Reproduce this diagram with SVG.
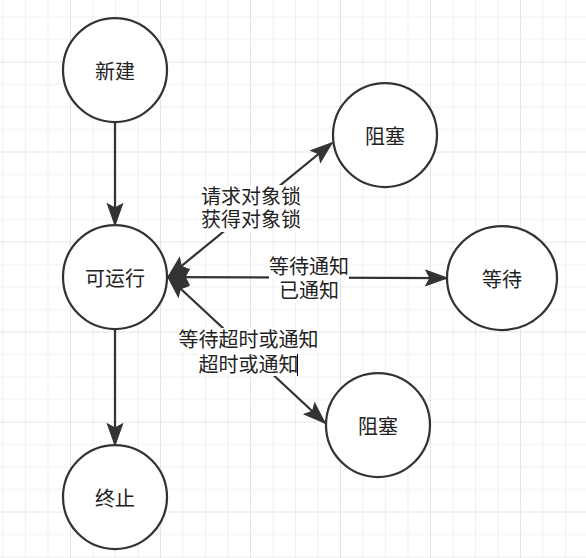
<svg xmlns="http://www.w3.org/2000/svg" width="586" height="558" viewBox="0 0 586 558">
  <style>
    .node circle, .node ellipse { fill: #ffffff; stroke: #333333; stroke-width: 2.25; }
    .node text, .label text { font-family: "Liberation Sans", "Noto Sans CJK SC", sans-serif; font-size: 20px; fill: #222222; text-anchor: middle; dominant-baseline: central; }
    .edge { stroke: #333333; stroke-width: 2.25; fill: none; }
    .one { marker-end: url(#arr); }
    .two { marker-start: url(#arr); marker-end: url(#arr); }
    .lbg { fill: #ffffff; }
  </style>
  <defs>
    <pattern id="grid" patternUnits="userSpaceOnUse" x="70" y="61.5" width="90" height="90">
      <rect x="22.5" y="0" width="1" height="90" fill="#f0f0f0"/>
      <rect x="45" y="0" width="1" height="90" fill="#f0f0f0"/>
      <rect x="67.5" y="0" width="1" height="90" fill="#f0f0f0"/>
      <rect x="0" y="22.5" width="90" height="1" fill="#f0f0f0"/>
      <rect x="0" y="45" width="90" height="1" fill="#f0f0f0"/>
      <rect x="0" y="67.5" width="90" height="1" fill="#f0f0f0"/>
      <rect x="0" y="0" width="1" height="90" fill="#e4e4e4"/>
      <rect x="0" y="0" width="90" height="1" fill="#e4e4e4"/>
    </pattern>
    <marker id="arr" markerUnits="userSpaceOnUse" markerWidth="24" markerHeight="18" refX="22" refY="9" orient="auto-start-reverse">
      <path d="M1,1.5 L22,9 L1,16.5 L5,9 z" fill="#333333" stroke="#333333" stroke-width="1.2" stroke-linejoin="miter"/>
    </marker>
  </defs>

  <rect x="0" y="0" width="586" height="558" fill="#ffffff"/>
  <rect x="0" y="0" width="586" height="558" fill="url(#grid)"/>

  <g id="connectors">
    <line class="edge one" x1="115" y1="122" x2="115" y2="225"/>
    <line class="edge one" x1="115" y1="329" x2="115" y2="445"/>
    <line class="edge two" x1="168" y1="277" x2="332" y2="143"/>
    <line class="edge two" x1="168" y1="277" x2="447" y2="278"/>
    <line class="edge two" x1="168" y1="277" x2="325" y2="423"/>
  </g>

  <g id="label-lock" class="label">
    <rect class="lbg" x="201" y="185" width="100" height="24"/>
    <rect class="lbg" x="201" y="208" width="100" height="24"/>
    <text x="251" y="197"><tspan x="251" y="197">请求对象锁</tspan><tspan x="251" y="220">获得对象锁</tspan></text>
  </g>
  <g id="label-wait" class="label">
    <rect class="lbg" x="269" y="255" width="80" height="24"/>
    <rect class="lbg" x="279" y="279" width="60" height="24"/>
    <text x="309" y="267"><tspan x="309" y="267">等待通知</tspan><tspan x="309" y="291">已通知</tspan></text>
  </g>
  <g id="label-timed" class="label">
    <rect class="lbg" x="178" y="328" width="141" height="24"/>
    <rect class="lbg" x="199" y="352" width="100" height="24"/>
    <text x="248.5" y="340"><tspan x="248.5" y="340">等待超时或通知</tspan><tspan x="248.5" y="365">超时或通知</tspan></text>
    <line x1="297.5" y1="354" x2="297.5" y2="376" stroke="#000000" stroke-width="1"/>
  </g>

  <g id="node-new" class="node">
    <circle cx="115" cy="70" r="52"/>
    <text x="115" y="72">新建</text>
  </g>
  <g id="node-runnable" class="node">
    <circle cx="115" cy="277" r="52"/>
    <text x="115" y="279">可运行</text>
  </g>
  <g id="node-blocked-1" class="node">
    <circle cx="385" cy="135" r="52"/>
    <text x="385" y="137">阻塞</text>
  </g>
  <g id="node-waiting" class="node">
    <ellipse cx="502" cy="278" rx="55" ry="52"/>
    <text x="502" y="280">等待</text>
  </g>
  <g id="node-blocked-2" class="node">
    <circle cx="378" cy="425" r="52"/>
    <text x="378" y="427">阻塞</text>
  </g>
  <g id="node-terminated" class="node">
    <circle cx="115" cy="497" r="52"/>
    <text x="115" y="499">终止</text>
  </g>
</svg>
